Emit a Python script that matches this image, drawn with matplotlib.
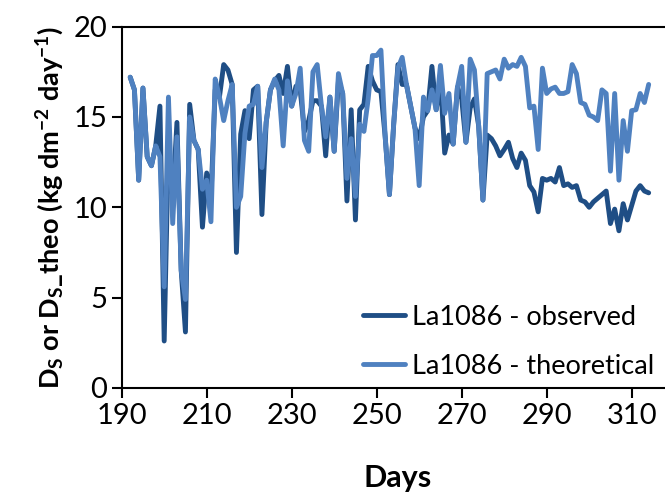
import matplotlib
matplotlib.use("Agg")
import matplotlib.pyplot as plt

days = list(range(192, 315))
theoretical = [17.2, 16.5, 11.5, 16.6, 12.8, 12.3, 13.4, 12.8, 5.6, 16.1,
               9.1, 13.9, 6.5, 4.9, 15.0, 13.7, 13.2, 11.0, 11.5, 9.2,
               17.1, 16.1, 14.8, 15.9, 16.8, 10.0, 10.6, 14.1, 15.6, 15.7,
               16.7, 12.2, 14.7, 16.5, 17.1, 16.5, 13.4, 17.0, 15.6, 16.3,
               17.7, 13.7, 13.1, 17.5, 17.9, 15.6, 13.9, 16.1, 13.1, 17.4,
               16.3, 11.6, 13.8, 10.6, 14.6, 14.2, 16.0, 18.4, 18.4, 18.7,
               13.9, 10.7, 14.6, 17.7, 18.3, 16.8, 15.6, 14.4, 11.2, 16.1,
               15.35, 16.5, 15.4, 17.85, 15.2, 16.3, 13.5, 16.65, 17.8, 13.6,
               18.2, 17.6, 14.5, 10.4, 17.4, 17.5, 17.6, 17.1, 18.2, 17.7,
               17.9, 17.8, 18.3, 17.8, 15.5, 15.6, 13.2, 17.7, 16.3, 16.55,
               16.65, 16.3, 16.3, 16.4, 17.9, 17.4, 15.8, 15.7, 15.1, 15.0,
               14.8, 16.5, 16.3, 12.0, 16.3, 11.5, 14.8, 13.1, 15.35, 15.4,
               16.3, 15.8, 16.8]
observed = [17.2, 16.5, 11.5, 16.6, 12.8, 12.3, 13.4, 15.6, 2.6, 13.5,
            10.5, 14.7, 6.5, 3.1, 15.7, 13.7, 13.2, 8.9, 11.9, 10.5,
            16.5, 16.1, 17.9, 17.6, 16.8, 7.5, 14.05, 15.35, 13.8, 16.5,
            16.7, 9.6, 14.7, 16.5, 17.0, 17.3, 16.3, 17.8, 15.6, 16.7,
            16.5, 14.2, 14.8, 15.9, 15.9, 15.6, 12.85, 16.1, 13.1, 17.0,
            16.3, 10.35, 15.4, 9.3, 15.4, 15.7, 17.8, 17.0, 16.5, 16.4,
            13.9, 10.7, 14.6, 17.9, 16.8, 16.8, 15.6, 14.4, 13.8, 15.0,
            15.35, 17.8, 15.4, 17.0, 13.0, 14.0, 13.5, 16.65, 16.0, 13.6,
            15.5, 16.0, 14.5, 10.4, 14.0, 13.8, 13.4, 12.85, 13.2, 13.6,
            12.7, 12.2, 13.0, 12.6, 11.2, 10.85, 9.75, 11.6, 11.5, 11.6,
            11.4, 12.2, 11.2, 11.3, 11.1, 11.2, 10.4, 10.3, 10.0, 10.3,
            10.5, 10.7, 10.9, 9.1, 9.9, 8.7, 10.2, 9.3, 10.1, 10.9,
            11.2, 10.9, 10.8]

xticks = [190, 210, 230, 250, 270, 290, 310]
yticks = [0, 5, 10, 15, 20]

plt.rcParams['font.family'] = ['Lato', 'DejaVu Sans']
plt.rcParams['mathtext.fontset'] = 'custom'
plt.rcParams['mathtext.rm'] = 'Lato:bold'
plt.rcParams['mathtext.default'] = 'rm'

fig = plt.figure(figsize=(6.65, 4.93), dpi=100)
ax = fig.add_axes([0.183, 0.213, 0.8308, 0.733])

ax.plot(days, observed, color='#1F4E85', lw=3.5, label='La1086 - observed',
        solid_joinstyle='round', solid_capstyle='round')
ax.plot(days, theoretical, color='#4F81C0', lw=3.5, label='La1086 - theoretical',
        solid_joinstyle='round', solid_capstyle='round')

ax.set_xlim(190, 320)
ax.set_ylim(0, 20)
ax.set_xticks(xticks)
ax.set_yticks(yticks)
ax.tick_params(axis='both', labelsize=21, width=1.5, length=7, direction='out', colors='black')
ax.tick_params(axis='x', pad=4)
ax.spines['right'].set_visible(False)
for s in ['left', 'bottom', 'top']:
    ax.spines[s].set_linewidth(1.5)

ax.set_xlabel('Days', fontsize=22, fontweight='bold', labelpad=25)
ax.set_ylabel(r'D$_S$ or D$_S$_theo (kg dm$^{-2}$ day$^{-1}$)', fontsize=19.5,
              fontweight='bold', labelpad=5)

leg = ax.legend(loc='lower left', bbox_to_anchor=(0.437, 0.025), frameon=False,
                fontsize=19.5, handlelength=1.55, handletextpad=0.26,
                labelspacing=0.9, borderpad=0, borderaxespad=0)

fig.savefig('out.png', dpi=100)
